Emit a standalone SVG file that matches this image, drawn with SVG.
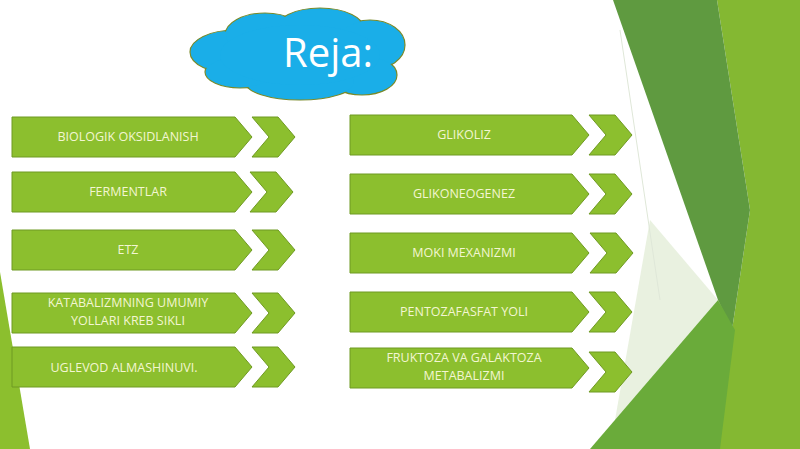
<svg xmlns="http://www.w3.org/2000/svg" width="800" height="449" viewBox="0 0 800 449">
<style>
.box{fill:#8cbf2e;stroke:#6f9a22;stroke-width:1}
.chev{fill:#8cbf2e;stroke:#6f9a22;stroke-width:1}
.t{font-family:"Open Sans","DejaVu Sans",sans-serif;font-size:12.5px;fill:#f3f6d2;text-anchor:middle}
</style>
<rect width="800" height="449" fill="#ffffff"/>
<g id="background">
<polygon points="0,272 30,449 0,449" fill="#8cbf2e"/>
<polygon points="650,220 718,300 640,400 615,420" fill="#dbe7cb" opacity="0.6"/>
<polygon points="717,0 800,0 800,449 700,449 732,330 750,210" fill="#84b832"/>
<polygon points="613,0 717,0 750,210 732,330 718,300" fill="#5f9a40"/>
<polygon points="718,300 735,330 720,449 590,449" fill="#6aab3a"/>
<line x1="620" y1="30" x2="660" y2="300" stroke="#dfe7d8" stroke-width="1"/>
</g>
<g id="title">
<g fill="#1aaee8" stroke="#7a8a2a" stroke-width="1.2">
<ellipse cx="235" cy="52" rx="45" ry="22"/>
<ellipse cx="265" cy="35" rx="40" ry="22"/>
<ellipse cx="320" cy="30" rx="45" ry="22"/>
<ellipse cx="370" cy="45" rx="35" ry="25"/>
<ellipse cx="362" cy="75" rx="35" ry="20"/>
<ellipse cx="300" cy="82" rx="55" ry="18"/>
<ellipse cx="240" cy="72" rx="35" ry="16"/>
</g>
<g fill="#1aaee8">
<ellipse cx="235" cy="52" rx="44" ry="21"/>
<ellipse cx="265" cy="35" rx="39" ry="21"/>
<ellipse cx="320" cy="30" rx="44" ry="21"/>
<ellipse cx="370" cy="45" rx="34" ry="24"/>
<ellipse cx="362" cy="75" rx="34" ry="19"/>
<ellipse cx="300" cy="82" rx="54" ry="17"/>
<ellipse cx="240" cy="72" rx="34" ry="15"/>
<ellipse cx="300" cy="55" rx="80" ry="30"/>
</g>
<text x="328" y="67" font-family="'Open Sans','DejaVu Sans',sans-serif" font-size="40" fill="#ffffff" text-anchor="middle">Reja:</text>
</g>
<g id="nodes">
<g id="n1"><polygon class="box" points="12,117 235,117 252,137 235,157 12,157"/><polygon class="chev" points="252,117 278,117 295,137 278,157 252,157 269,137"/><text class="t" x="128" y="141">BIOLOGIK OKSIDLANISH</text></g>
<g id="n2"><polygon class="box" points="12,172 235,172 252,192 235,212 12,212"/><polygon class="chev" points="250,172 276,172 293,192 276,212 250,212 267,192"/><text class="t" x="128" y="196">FERMENTLAR</text></g>
<g id="n3"><polygon class="box" points="12,230 235,230 252,250 235,270 12,270"/><polygon class="chev" points="252,230 278,230 295,250 278,270 252,270 269,250"/><text class="t" x="128" y="254">ETZ</text></g>
<g id="n4"><polygon class="box" points="12,293 235,293 252,313 235,333 12,333"/><polygon class="chev" points="252,293 278,293 295,313 278,333 252,333 269,313"/><text class="t" x="128" y="307">KATABALIZMNING UMUMIY</text><text class="t" x="128" y="325">YOLLARI KREB SIKLI</text></g>
<g id="n5"><polygon class="box" points="12,347 235,347 252,367 235,387 12,387"/><polygon class="chev" points="252,347 278,347 295,367 278,387 252,387 269,367"/><text class="t" x="124" y="372">UGLEVOD ALMASHINUVI.</text></g>
<g id="n6"><polygon class="box" points="350,115 572,115 589,135 572,155 350,155"/><polygon class="chev" points="589,115 615,115 632,135 615,155 589,155 606,135"/><text class="t" x="464" y="139">GLIKOLIZ</text></g>
<g id="n7"><polygon class="box" points="350,174 572,174 589,194 572,214 350,214"/><polygon class="chev" points="589,174 615,174 632,194 615,214 589,214 606,194"/><text class="t" x="464" y="198">GLIKONEOGENEZ</text></g>
<g id="n8"><polygon class="box" points="350,233 572,233 589,253 572,273 350,273"/><polygon class="chev" points="590,233 616,233 633,253 616,273 590,273 607,253"/><text class="t" x="464" y="257">MOKI MEXANIZMI</text></g>
<g id="n9"><polygon class="box" points="350,292 572,292 589,312 572,332 350,332"/><polygon class="chev" points="589,292 615,292 632,312 615,332 589,332 606,312"/><text class="t" x="464" y="316">PENTOZAFASFAT YOLI</text></g>
<g id="n10"><polygon class="box" points="350,348 572,348 589,368 572,388 350,388"/><polygon class="chev" points="589,352 615,352 632,372 615,392 589,392 606,372"/><text class="t" x="464" y="362">FRUKTOZA VA GALAKTOZA</text><text class="t" x="464" y="380">METABALIZMI</text></g>
</g>
<g id="connectors"/>
</svg>
